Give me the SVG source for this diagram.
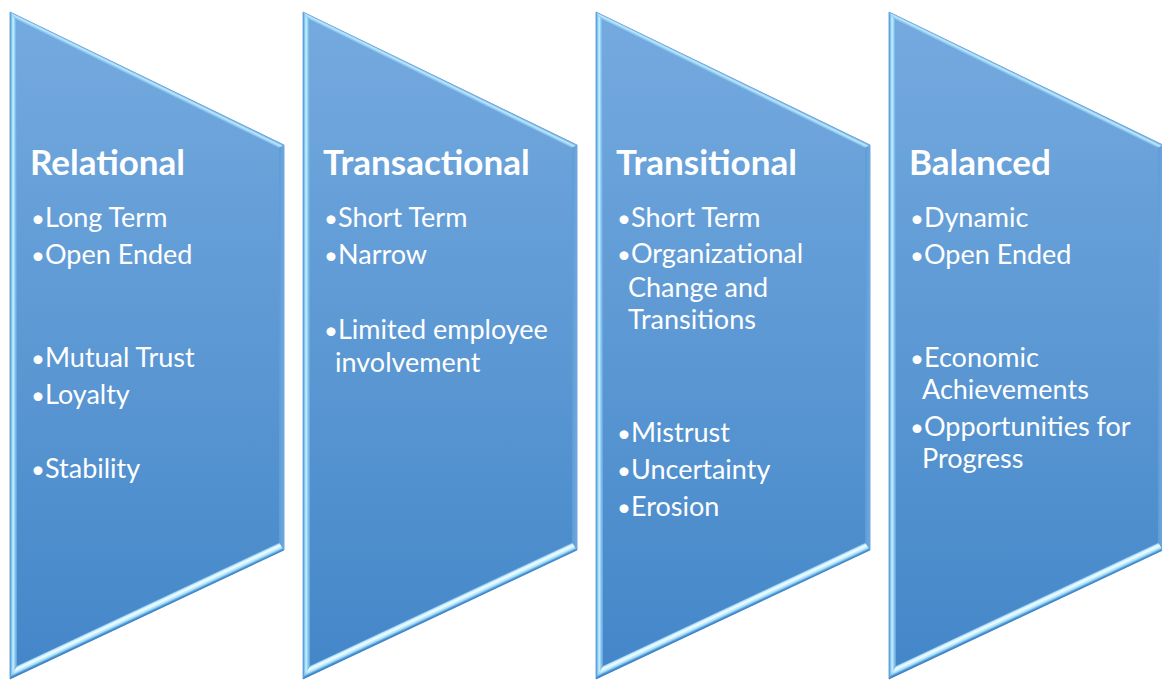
<svg xmlns="http://www.w3.org/2000/svg" xmlns:xlink="http://www.w3.org/1999/xlink" width="1162" height="680" viewBox="0 0 1162 680">
  <style>
    .title { font-family: Lato, "Open Sans", "DejaVu Sans", sans-serif; font-weight: 700; font-size: 35px; fill: #ffffff; }
    .item  { font-family: Lato, "Open Sans", "DejaVu Sans", sans-serif; font-size: 27px; fill: #ffffff; }
    .dot   { font-size: 24px; }
  </style>
  <defs>
    <!-- face shading, top to bottom -->
    <linearGradient id="face" gradientUnits="userSpaceOnUse" x1="0" y1="12" x2="0" y2="679">
      <stop offset="0" stop-color="#75aadf"/>
      <stop offset="1" stop-color="#4386c8"/>
    </linearGradient>
    <!-- bevel facets -->
    <linearGradient id="bevelLeft" gradientUnits="userSpaceOnUse" x1="0" y1="0" x2="7" y2="0">
      <stop offset="0" stop-color="#4e90d2"/>
      <stop offset="0.2" stop-color="#80c2ee"/>
      <stop offset="0.45" stop-color="#c8f2ff"/>
      <stop offset="0.7" stop-color="#8ccaf0"/>
      <stop offset="1" stop-color="#62a0da"/>
    </linearGradient>
    <linearGradient id="bevelTop" gradientUnits="userSpaceOnUse" x1="137" y1="78.5" x2="134.8" y2="83">
      <stop offset="0" stop-color="#74aee2"/>
      <stop offset="0.35" stop-color="#bfeaff"/>
      <stop offset="0.7" stop-color="#8fc8ee"/>
      <stop offset="1" stop-color="#6ea7dd"/>
    </linearGradient>
    <linearGradient id="bevelRight" gradientUnits="userSpaceOnUse" x1="269" y1="0" x2="274" y2="0">
      <stop offset="0" stop-color="#5f9bd5"/>
      <stop offset="1" stop-color="#6ea8de"/>
    </linearGradient>
    <linearGradient id="bevelBottom" gradientUnits="userSpaceOnUse" x1="137" y1="614.5" x2="133.2" y2="606.4">
      <stop offset="0" stop-color="#3b7fc2"/>
      <stop offset="0.12" stop-color="#4a90d0"/>
      <stop offset="0.35" stop-color="#a6e2fa"/>
      <stop offset="0.65" stop-color="#f4fdff"/>
      <stop offset="0.85" stop-color="#c0ecff"/>
      <stop offset="1" stop-color="#5d9ad6"/>
    </linearGradient>

    <!-- one bevelled panel, left edge at x=0 -->
    <g id="panel">
      <polygon points="0,12 274,145 274,550 0,679" fill="url(#face)" stroke="#5090d0" stroke-width="0.8"/>
      <polygon points="0,12 7,21 7,665.8 0,679" fill="url(#bevelLeft)"/>
      <polygon points="0,12 274,145 269,148.1 7,21" fill="url(#bevelTop)"/>
      <polygon points="274,145 274,550 269,542.4 269,148.1" fill="url(#bevelRight)"/>
      <polygon points="7,665.8 269,542.4 274,550 0,679" fill="url(#bevelBottom)"/>
    </g>
  </defs>

  <rect width="1162" height="680" fill="#ffffff"/>

  <g id="relational">
    <use xlink:href="#panel" x="10"/>
    <text class="title" x="30" y="175">Relational</text>
    <g class="item">
      <text y="227"><tspan class="dot" x="31">•</tspan><tspan x="45">Long Term</tspan></text>
      <text y="264"><tspan class="dot" x="31">•</tspan><tspan x="45">Open Ended</tspan></text>
      <text y="367"><tspan class="dot" x="31">•</tspan><tspan x="45">Mutual Trust</tspan></text>
      <text y="404"><tspan class="dot" x="31">•</tspan><tspan x="45">Loyalty</tspan></text>
      <text y="478"><tspan class="dot" x="31">•</tspan><tspan x="45">Stability</tspan></text>
    </g>
  </g>

  <g id="transactional">
    <use xlink:href="#panel" x="303"/>
    <text class="title" x="323" y="175">Transactional</text>
    <g class="item">
      <text y="227"><tspan class="dot" x="324">•</tspan><tspan x="338">Short Term</tspan></text>
      <text y="264"><tspan class="dot" x="324">•</tspan><tspan x="338">Narrow</tspan></text>
      <text y="339"><tspan class="dot" x="324">•</tspan><tspan x="338">Limited employee</tspan></text>
      <text x="335" y="372">involvement</text>
    </g>
  </g>

  <g id="transitional">
    <use xlink:href="#panel" x="596"/>
    <text class="title" x="616" y="175">Transitional</text>
    <g class="item">
      <text y="227"><tspan class="dot" x="617">•</tspan><tspan x="631">Short Term</tspan></text>
      <text y="263"><tspan class="dot" x="617">•</tspan><tspan x="631">Organizational</tspan></text>
      <text x="628" y="297">Change and</text>
      <text x="628" y="329">Transitions</text>
      <text y="442"><tspan class="dot" x="617">•</tspan><tspan x="631">Mistrust</tspan></text>
      <text y="479"><tspan class="dot" x="617">•</tspan><tspan x="631">Uncertainty</tspan></text>
      <text y="516"><tspan class="dot" x="617">•</tspan><tspan x="631">Erosion</tspan></text>
    </g>
  </g>

  <g id="balanced">
    <use xlink:href="#panel" x="889"/>
    <text class="title" x="909" y="175">Balanced</text>
    <g class="item">
      <text y="227"><tspan class="dot" x="910">•</tspan><tspan x="924">Dynamic</tspan></text>
      <text y="264"><tspan class="dot" x="910">•</tspan><tspan x="924">Open Ended</tspan></text>
      <text y="367"><tspan class="dot" x="910">•</tspan><tspan x="924">Economic</tspan></text>
      <text x="922" y="399">Achievements</text>
      <text y="436"><tspan class="dot" x="910">•</tspan><tspan x="924">Opportunities for</tspan></text>
      <text x="922" y="468">Progress</text>
    </g>
  </g>

  <!-- no connectors between the panels -->
  <g id="connectors"/>
</svg>
